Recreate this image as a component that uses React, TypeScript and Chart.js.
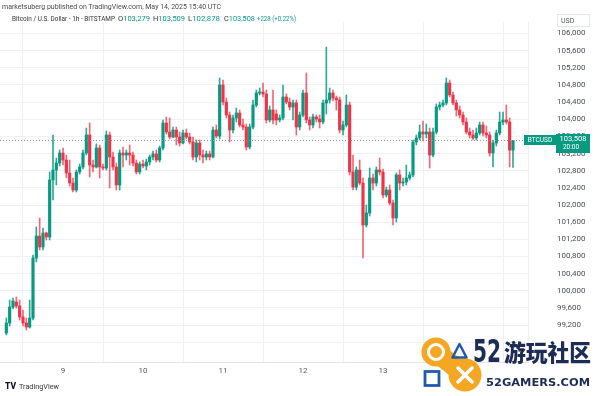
import React, { useEffect, useRef } from 'react';
import { Chart, registerables } from 'chart.js';

Chart.register(...registerables);

// Hourly candles, first candle = May 8 07:00 UTC (hour -17 relative to May 9 00:00)
const FIRST_HOUR = -17;

const opens = [
  99015, 99249, 99622, 99738, 99645, 99389, 99249, 99155, 99365, 100764,
  101277, 101021, 101347, 101254, 102583, 102817, 102980, 103213, 103050, 102747,
  102513, 102350, 102770, 102887, 103213, 103633, 102933, 102887, 103330, 102887,
  102863, 103633, 103120, 102887, 102467, 103213, 103166, 103213, 103166, 102980,
  102770, 102956, 102910, 103003, 103120, 103190, 103050, 103330, 103913, 103703,
  103586, 103749, 103586, 103446, 103679, 103586, 103470, 103120, 103446, 103166,
  103120, 103190, 103120, 103749, 103609, 104799, 104402, 104099, 103749, 104029,
  104146, 103866, 103819, 103353, 103819, 104332, 104612, 104636, 104589, 103983,
  104216, 104123, 103983, 104029, 104519, 104402, 104286, 104379, 103819, 104099,
  104612, 103983, 103866, 104053, 104006, 103936, 104379, 104449, 104612, 104496,
  104449, 103749, 103866, 104332, 102770, 102420, 102817, 102513, 101534, 101814,
  102630, 102513, 102817, 102770, 102234, 102350, 102047, 101697, 102700, 102513,
  102537, 102630, 102700, 103470, 103563, 103703, 103656, 103703, 103166, 103703,
  104286, 104332, 104379, 104845, 104566, 104379, 104216, 104099, 103936, 103703,
  103633, 103563, 103679, 103866, 103679, 103633, 103213, 103446, 103679, 103936,
  103983, 103936, 103279,
];

const highs = [
  99365, 99785, 99832, 99855, 99785, 99552, 99365, 99785, 100834, 101487,
  101697, 101464, 101371, 102770, 103633, 103096, 103283, 103330, 103166, 103050,
  102630, 102817, 102956, 103283, 103796, 103913, 103050, 103423, 103400, 102956,
  103726, 103703, 103236, 102980, 103283, 103353, 103283, 103400, 103236, 103050,
  103003, 103050, 103073, 103166, 103260, 103283, 103376, 103983, 104053, 104029,
  103819, 103819, 103703, 103749, 103773, 103679, 103586, 103516, 103516, 103283,
  103260, 103260, 103819, 103866, 104962, 104915, 104496, 104169, 104099, 104262,
  104216, 104006, 103889, 103889, 104449, 104682, 104729, 104845, 104682, 104309,
  104682, 104216, 104099, 104799, 104589, 104496, 104449, 104449, 104169, 104682,
  105079, 104053, 104123, 104099, 104099, 104449, 105685, 104729, 104682, 104542,
  104519, 103959, 104566, 104402, 103166, 102887, 103050, 102630, 102000, 102863,
  102723, 102887, 103096, 102840, 102420, 102467, 102117, 102747, 102817, 102630,
  102933, 102770, 103516, 103633, 103866, 103959, 103889, 103796, 103796, 104356,
  104402, 104449, 104962, 104915, 104636, 104449, 104309, 104169, 104029, 103796,
  103749, 103796, 103936, 103936, 103843, 103703, 103516, 103749, 104169, 104169,
  104332, 104029, 103509,
];

const lows = [
  98969, 99179, 99575, 99598, 99319, 99179, 99085, 99132, 99319, 100671,
  100951, 100951, 101184, 101184, 102117, 102467, 102910, 102933, 102630, 102443,
  102304, 102304, 102723, 102840, 103166, 102653, 102770, 102863, 102630, 102817,
  102817, 102397, 102817, 102350, 102350, 102887, 103050, 102933, 102910, 102723,
  102723, 102863, 102817, 102933, 103050, 103003, 103003, 103283, 103656, 103540,
  103563, 103400, 103376, 103423, 103540, 103423, 103050, 103003, 103050, 102980,
  103050, 103050, 103096, 103563, 103540, 104332, 104029, 103470, 103679, 103936,
  103819, 103749, 103283, 103306, 103773, 104286, 104566, 104519, 103913, 103936,
  103889, 103866, 103936, 103983, 104356, 104216, 103983, 103633, 103749, 104053,
  103913, 103749, 103796, 103936, 103796, 103889, 104123, 104379, 104426, 104216,
  103679, 103633, 103819, 102700, 102350, 102350, 102467, 100764, 101487, 101744,
  102350, 102443, 102700, 102164, 102187, 102000, 101534, 101604, 102350, 102443,
  102467, 102583, 102653, 103400, 103516, 103493, 103563, 102863, 103120, 103656,
  104216, 104286, 104332, 104519, 104332, 104076, 104029, 103866, 103656, 103563,
  103516, 103516, 103633, 103609, 103563, 103143, 102887, 103376, 103633, 103866,
  103889, 102887, 102878,
];

const closes = [
  99249, 99622, 99762, 99645, 99389, 99249, 99155, 99365, 100764, 101277,
  101021, 101347, 101254, 102583, 102817, 102980, 103213, 103050, 102747, 102513,
  102350, 102770, 102887, 103213, 103633, 102933, 102887, 103330, 102887, 102863,
  103633, 103120, 102887, 102467, 103213, 103166, 103213, 103166, 102980, 102770,
  102956, 102910, 103003, 103120, 103190, 103050, 103330, 103913, 103703, 103586,
  103749, 103586, 103446, 103679, 103586, 103470, 103120, 103446, 103166, 103120,
  103190, 103120, 103749, 103609, 104799, 104402, 104099, 103749, 104029, 104146,
  103866, 103819, 103353, 103819, 104332, 104612, 104636, 104589, 103983, 104216,
  103983, 103983, 104029, 104519, 104402, 104286, 104379, 103819, 104099, 104612,
  103983, 103866, 104053, 104006, 103936, 104379, 104449, 104612, 104496, 104449,
  103749, 103866, 104332, 102770, 102420, 102817, 102513, 101534, 101814, 102630,
  102513, 102817, 102770, 102234, 102350, 102047, 101697, 102700, 102513, 102537,
  102630, 102700, 103470, 103563, 103703, 103656, 103703, 103166, 103703, 104286,
  104332, 104379, 104845, 104566, 104379, 104216, 104099, 103936, 103703, 103633,
  103563, 103679, 103866, 103679, 103633, 103213, 103446, 103679, 103936, 103983,
  103936, 103279, 103508,
];

const dayTickHours = [0, 24, 48, 72, 96, 120];
const dayTickLabels = ['9', '10', '11', '12', '13', '14'];
const priceTicks = [
  98800, 99200, 99600, 100000, 100400, 100800, 101200, 101600, 102000, 102400,
  102800, 103200, 103600, 104000, 104400, 104800, 105200, 105600, 106000,
];
const hiddenPriceLabels = [98800];
const lastClose = 103508;
const lastCloseLabel = '103,508';
const countdownLabel = '20:00';
const symbolLabel = 'BTCUSD';

const UP = '#089981';
const DOWN = '#ee3448';
const UP_WICK = 'rgba(8,153,129,0.85)';
const DOWN_WICK = 'rgba(238,52,72,0.75)';

const fmt = (v: number) => v.toLocaleString('en-US');

const priceLinePlugin = {
  id: 'priceLine',
  afterDatasetsDraw(chart: any) {
    const { ctx, chartArea, scales } = chart;
    const y = Math.round(scales.y.getPixelForValue(lastClose)) + 0.5;
    ctx.save();
    ctx.strokeStyle = '#8d939b';
    ctx.lineWidth = 1;
    ctx.setLineDash([1, 2]);
    ctx.beginPath();
    ctx.moveTo(chartArea.left, y);
    ctx.lineTo(chartArea.right, y);
    ctx.stroke();
    ctx.restore();
  },
  afterDraw(chart: any) {
    const { ctx, chartArea, scales } = chart;
    const y = Math.round(scales.y.getPixelForValue(lastClose));
    const r = chartArea.right;
    ctx.save();
    ctx.fillStyle = UP;
    ctx.fillRect(r - 4, y - 5, 32, 10);
    ctx.fillRect(r + 28, y - 6, 34, 19);
    ctx.fillStyle = '#ffffff';
    ctx.textBaseline = 'middle';
    ctx.textAlign = 'center';
    ctx.font = '6.5px Roboto';
    ctx.fillText(symbolLabel, r + 12, y + 0.5);
    ctx.font = '7.5px Roboto';
    ctx.fillText(lastCloseLabel, r + 45, y - 0.5);
    ctx.font = '6.5px Roboto';
    ctx.fillText(countdownLabel, r + 43, y + 7.5);
    ctx.restore();
  },
};

export default function App() {
  const ref = useRef<HTMLCanvasElement>(null);

  useEffect(() => {
    if (!ref.current) return;
    Chart.defaults.font.family = 'Roboto';
    const hours = opens.map((_, i) => FIRST_HOUR + i);
    const wickData = hours.map((h, i) => ({ x: h, y: [lows[i], highs[i]] }));
    const bodyData = hours.map((h, i) => ({ x: h, y: [opens[i], closes[i]] }));
    const isUp = (i: number) => closes[i] >= opens[i];

    const chart = new Chart(ref.current, {
      type: 'bar',
      data: {
        datasets: [
          {
            data: wickData as any,
            backgroundColor: (c: any) => (isUp(c.dataIndex) ? UP_WICK : DOWN_WICK),
            barThickness: 1,
            grouped: false,
            borderWidth: 0,
            order: 2,
          } as any,
          {
            data: bodyData as any,
            backgroundColor: (c: any) => (isUp(c.dataIndex) ? UP : DOWN),
            barThickness: 2.5,
            grouped: false,
            minBarLength: 1,
            borderWidth: 0,
            order: 1,
          } as any,
        ],
      },
      options: {
        responsive: false,
        animation: false,
        devicePixelRatio: 1,
        layout: { padding: { top: 22, left: 0, right: 0, bottom: 0 } },
        plugins: { legend: { display: false }, tooltip: { enabled: false } },
        scales: {
          x: {
            type: 'linear',
            min: -18.9,
            max: 139.5,
            offset: false,
            afterBuildTicks: (s: any) => {
              s.ticks = dayTickHours.map((v) => ({ value: v }));
            },
            afterFit: (s: any) => {
              s.height = 34;
              s.paddingLeft = 0;
              s.paddingRight = 0;
            },
            ticks: {
              autoSkip: false,
              maxRotation: 0,
              padding: 4,
              color: '#555b63',
              font: { size: 8 },
              callback: (v: any) => {
                const i = dayTickHours.indexOf(Number(v));
                return i >= 0 ? dayTickLabels[i] : '';
              },
            },
            grid: { color: '#eef0f4', drawTicks: false },
            border: { color: '#e1e4ea' },
          },
          y: {
            position: 'right',
            min: 98339,
            max: 106268,
            afterBuildTicks: (s: any) => {
              s.ticks = priceTicks.map((v) => ({ value: v }));
            },
            afterFit: (s: any) => {
              s.width = 72;
              s.paddingTop = 0;
              s.paddingBottom = 0;
            },
            ticks: {
              padding: 29,
              crossAlign: 'near',
              color: '#4a4f57',
              font: { size: 8 },
              callback: (v: any) => (hiddenPriceLabels.includes(Number(v)) ? '' : fmt(Number(v))),
            },
            grid: { color: '#eef0f4', drawTicks: false },
            border: { color: '#eceef2' },
          },
        },
      } as any,
      plugins: [priceLinePlugin],
    });
    return () => chart.destroy();
  }, []);

  const navy = '#1c2c54';
  const orange = '#f5a623';
  const blue = '#2459a8';

  return (
    <div style={{ position: 'fixed', left: 0, top: 0, width: 600, height: 396, background: '#fff', overflow: 'hidden' }}>
      <canvas ref={ref} width={600} height={396} style={{ position: 'absolute', left: 0, top: 0, width: 600, height: 396 }} />
      <svg width={600} height={396} style={{ position: 'absolute', left: 0, top: 0, pointerEvents: 'none' }}>
        <g fontFamily="Roboto, 'Liberation Sans', sans-serif">
          <text x={2} y={8.5} fontSize={7.4} fill="#4a4a4a" textLength={219} lengthAdjust="spacingAndGlyphs">
            marketsuberg published on TradingView.com, May 14, 2025 15:40 UTC
          </text>
          <text x={12} y={21} fontSize={7.2} fill="#333" textLength={103} lengthAdjust="spacingAndGlyphs">
            Bitcoin / U.S. Dollar - 1h - BITSTAMP
          </text>
          <text x={118} y={21} fontSize={7.2} textLength={32} lengthAdjust="spacingAndGlyphs">
            <tspan fill="#333">O</tspan><tspan fill={UP}>103,279</tspan>
          </text>
          <text x={153} y={21} fontSize={7.2} textLength={32} lengthAdjust="spacingAndGlyphs">
            <tspan fill="#333">H</tspan><tspan fill={UP}>103,509</tspan>
          </text>
          <text x={188} y={21} fontSize={7.2} textLength={32} lengthAdjust="spacingAndGlyphs">
            <tspan fill="#333">L</tspan><tspan fill={UP}>102,878</tspan>
          </text>
          <text x={224} y={21} fontSize={7.2} textLength={31} lengthAdjust="spacingAndGlyphs">
            <tspan fill="#333">C</tspan><tspan fill={UP}>103,508</tspan>
          </text>
          <text x={257} y={21} fontSize={7.2} fill={UP} textLength={39} lengthAdjust="spacingAndGlyphs">
            +228 (+0.22%)
          </text>
          <rect x={557.5} y={14.5} width={32} height={12} fill="#fff" stroke="#e3e6ec" strokeWidth={1} />
          <text x={561} y={23} fontSize={7} fill="#555">USD</text>
          <text x={5} y={389} fontSize={8.5} fontWeight={900} fill="#131722" textLength={11} lengthAdjust="spacingAndGlyphs">TV</text>
          <text x={19} y={389} fontSize={7} fill="#333" textLength={40} lengthAdjust="spacingAndGlyphs">TradingView</text>
        </g>
        <g>
          <line x1={436} y1={352} x2={465} y2={375} stroke={orange} strokeWidth={20} strokeLinecap="round" />
          <circle cx={436} cy={352} r={14.5} fill={orange} />
          <circle cx={465} cy={375} r={16.5} fill={orange} />
          <circle cx={436} cy={352} r={7.5} fill="none" stroke="#fff" strokeWidth={3} />
          <line x1={458} y1={368} x2={472} y2={382} stroke="#fff" strokeWidth={3.5} strokeLinecap="round" />
          <line x1={472} y1={368} x2={458} y2={382} stroke="#fff" strokeWidth={3.5} strokeLinecap="round" />
          <polygon points="459.5,344 452.5,357.5 466.5,357.5" fill="none" stroke={blue} strokeWidth={2.5} strokeLinejoin="round" />
          <rect x={425} y={371.5} width={14} height={14} fill="none" stroke={blue} strokeWidth={2.8} />
          <text x={473} y={362} fontSize={32} fontWeight={900} fill={navy} fontFamily="'DejaVu Sans', sans-serif" textLength={28} lengthAdjust="spacingAndGlyphs">52</text>
          <text x={504} y={361} fontSize={23} fontWeight={900} fill={navy} fontFamily="'Noto Sans CJK SC', sans-serif" textLength={87} lengthAdjust="spacingAndGlyphs">游玩社区</text>
          <text x={486} y={386} fontSize={11} fontWeight={900} fill={navy} fontFamily="'DejaVu Sans', sans-serif" textLength={104} lengthAdjust="spacingAndGlyphs">52GAMERS.COM</text>
        </g>
      </svg>
    </div>
  );
}
